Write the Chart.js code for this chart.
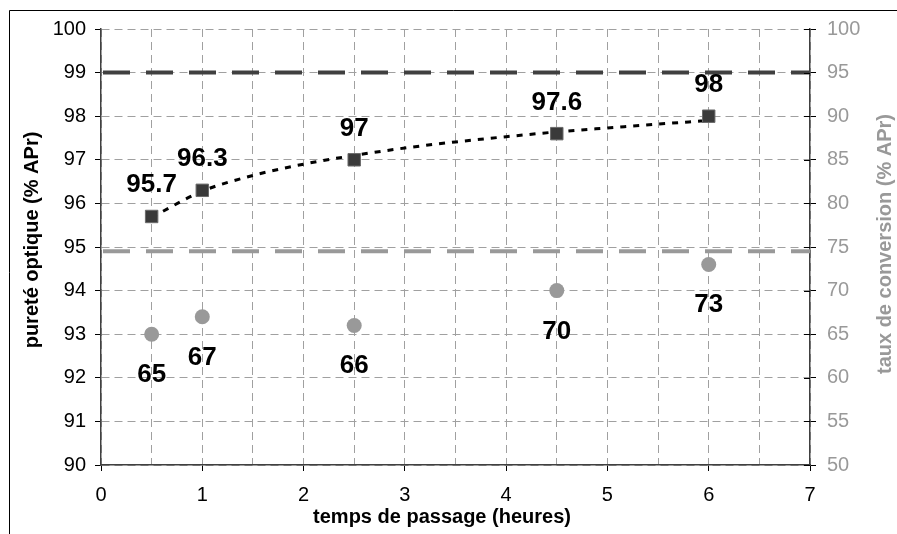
<!doctype html>
<html lang="fr">
<head>
<meta charset="utf-8">
<title>pureté optique / taux de conversion</title>
<style>
  body{ margin:0; background:#fff; }
  .wrap{ position:relative; width:897px; height:534px; }
</style>
</head>
<body>
<div class="wrap"><canvas id="myChart"></canvas></div>

<script src="https://cdn.jsdelivr.net/npm/chart.js"></script>
<script>
// données
const temps = [0.5, 1, 2.5, 4.5, 6];
const purete = [95.7, 96.3, 97, 97.6, 98];
const conversion = [65, 67, 66, 70, 73];

// courbe de tendance (pointillés)
const trendX = [0.5, 1, 1.5, 2, 2.5, 3, 3.5, 4, 4.5, 5, 5.5, 6];
const trendY = [95.68, 96.28, 96.64, 96.9, 97.1, 97.27, 97.41, 97.53, 97.64, 97.73, 97.82, 97.9];

// lignes de référence
const refX = [0, 7];
const refHaute = 99;    // axe gauche
const refBasse = 94.9;  // axe gauche

const FONT = "'Liberation Sans', Arial, sans-serif";

function pts(xs, ys){
  return xs.map(function(x, i){ return {x: x, y: ys[i]}; });
}

// étiquettes, titres d'axes et cadre
const habillage = {
  id: 'habillage',
  afterDatasetsDraw(chart){
    const ctx = chart.ctx;
    ctx.save();
    ctx.fillStyle = '#000';
    ctx.font = 'bold 26px ' + FONT;
    ctx.textAlign = 'center';
    ctx.textBaseline = 'alphabetic';
    chart.getDatasetMeta(0).data.forEach(function(p, i){
      ctx.fillText(String(purete[i]), p.x, p.y - 33 + 9);
    });
    chart.getDatasetMeta(1).data.forEach(function(p, i){
      ctx.fillText(String(conversion[i]), p.x, p.y + 39 + 9);
    });
    ctx.restore();
  },
  afterDraw(chart){
    const ctx = chart.ctx;
    const area = chart.chartArea;
    const y2 = chart.scales.y2;
    ctx.save();
    // petites graduations intérieures de l'axe droit
    ctx.strokeStyle = '#000';
    ctx.lineWidth = 1;
    y2.ticks.forEach(function(t){
      const yy = Math.round(y2.getPixelForValue(t.value)) + 0.5;
      ctx.beginPath();
      ctx.moveTo(area.right - 6, yy);
      ctx.lineTo(area.right, yy);
      ctx.stroke();
    });

    // titres
    ctx.font = 'bold 20px ' + FONT;
    ctx.textAlign = 'center';
    ctx.textBaseline = 'middle';
    ctx.fillStyle = '#000';
    ctx.fillText('temps de passage (heures)', 442, 517);

    ctx.save();
    ctx.translate(32, 240);
    ctx.rotate(-Math.PI / 2);
    ctx.fillText('pureté optique (% APr)', 0, 0);
    ctx.restore();

    ctx.save();
    ctx.translate(885, 244);
    ctx.rotate(-Math.PI / 2);
    ctx.fillStyle = '#999';
    ctx.fillText('taux de conversion (% APr)', 0, 0);
    ctx.restore();

    // cadre
    ctx.strokeStyle = '#000';
    ctx.lineWidth = 1;
    ctx.beginPath();
    ctx.moveTo(9.5, 534);
    ctx.lineTo(9.5, 10.5);
    ctx.lineTo(897, 10.5);
    ctx.stroke();
    ctx.restore();
  }
};

const config = {
  type: 'line',
  data: {
    datasets: [{
      label: 'pureté optique',
      data: pts(temps, purete),
      yAxisID: 'y',
      showLine: false,
      pointStyle: 'rect',
      pointRadius: 8.8,
      pointBackgroundColor: '#3a3a3a',
      pointBorderColor: '#6a6a6a',
      pointBorderWidth: 1,
      order: 1
    }, {
      label: 'taux de conversion',
      data: pts(temps, conversion),
      yAxisID: 'y2',
      showLine: false,
      pointStyle: 'circle',
      pointRadius: 7.5,
      pointBackgroundColor: '#999',
      pointBorderColor: '#999',
      pointBorderWidth: 0,
      order: 2
    }, {
      label: 'tendance',
      data: pts(trendX, trendY),
      yAxisID: 'y',
      borderColor: '#000',
      borderWidth: 3,
      borderDash: [6, 7],
      cubicInterpolationMode: 'monotone',
      pointRadius: 0,
      fill: false,
      order: 3
    }, {
      label: 'ref 99',
      data: pts(refX, [refHaute, refHaute]),
      yAxisID: 'y',
      borderColor: '#404040',
      borderWidth: 4,
      borderDash: [27, 16],
      borderDashOffset: 41,
      pointRadius: 0,
      fill: false,
      order: 4
    }, {
      label: 'ref 94.9',
      data: pts(refX, [refBasse, refBasse]),
      yAxisID: 'y',
      borderColor: '#999',
      borderWidth: 4,
      borderDash: [27, 16],
      borderDashOffset: 41,
      pointRadius: 0,
      fill: false,
      order: 5
    }]
  },
  options: {
    responsive: true,
    maintainAspectRatio: false,
    animation: false,
    layout: { padding: { top: 29, left: 0, right: 0, bottom: 0 } },
    plugins: {
      legend: { display: false },
      tooltip: { enabled: false }
    },
    scales: {
      x: {
        type: 'linear',
        min: 0,
        max: 7,
        afterFit(s){ s.height = 69; },
        ticks: {
          stepSize: 0.5,
          autoSkip: false,
          maxRotation: 0,
          padding: 12,
          color: '#000',
          font: { family: FONT, size: 20 },
          callback: function(v){ return v % 1 === 0 ? v : ''; }
        },
        grid: {
          color: '#a0a0a0',
          lineWidth: 1,
          tickLength: 6,
          tickWidth: 1,
          tickColor: function(c){ return (c.tick && c.tick.value % 1 === 0) ? '#000' : 'rgba(0,0,0,0)'; }
        },
        border: { color: '#404040', width: 1.5, dash: [8, 5] }
      },
      y: {
        position: 'left',
        min: 90,
        max: 100,
        afterFit(s){ s.width = 101; },
        ticks: {
          stepSize: 1,
          padding: 9,
          color: '#000',
          font: { family: FONT, size: 20 }
        },
        grid: {
          color: '#a0a0a0',
          lineWidth: 1,
          tickLength: 6,
          tickColor: '#000'
        },
        border: { color: '#404040', width: 1.5, dash: [8, 5] }
      },
      y2: {
        position: 'right',
        min: 50,
        max: 100,
        afterFit(s){ s.width = 87; },
        ticks: {
          stepSize: 5,
          padding: 11,
          color: '#999',
          font: { family: FONT, size: 20 }
        },
        grid: {
          drawOnChartArea: false,
          tickLength: 6,
          tickColor: '#000'
        },
        border: { color: '#404040', width: 1.5 }
      }
    }
  },
  plugins: [habillage]
};

new Chart(document.getElementById('myChart'), config);
</script>
</body>
</html>
